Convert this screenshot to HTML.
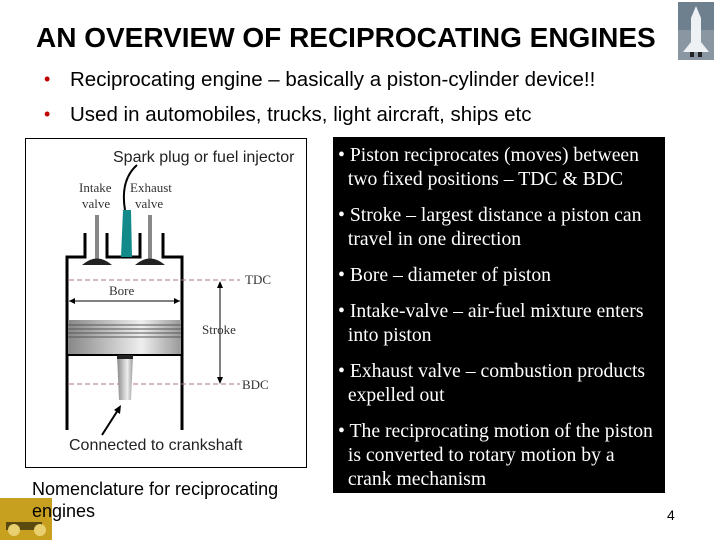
<!DOCTYPE html>
<html><head><meta charset="utf-8"><style>
body{margin:0;width:720px;height:540px;background:#fff;position:relative;overflow:hidden;font-family:"Liberation Sans",sans-serif}
.a{position:absolute;white-space:nowrap}
.t{font-family:"Liberation Serif",serif;color:#fff;font-size:19.7px;line-height:24px;left:338px}
</style></head><body>
<div class="a" style="left:36px;top:22px;font-size:28px;font-weight:bold;color:#000">AN OVERVIEW OF RECIPROCATING ENGINES</div>
<svg class="a" style="left:678px;top:2px" width="36" height="58"><rect x="0" y="0" width="36" height="58" fill="#6e7f8e"/><rect x="0" y="28" width="36" height="30" fill="#8a97a3"/><path d="M18 4 L23 16 L23 40 L31 50 L5 50 L13 40 L13 16Z" fill="#eef1f4"/><rect x="12" y="50" width="4" height="5" fill="#222"/><rect x="20" y="50" width="4" height="5" fill="#222"/></svg>
<div class="a" style="left:44px;top:69px;font-size:18px;color:#c00000">•</div>
<div class="a" style="left:70px;top:68px;font-size:20.5px">Reciprocating engine – basically a piston-cylinder device!!</div>
<div class="a" style="left:44px;top:104px;font-size:18px;color:#c00000">•</div>
<div class="a" style="left:70px;top:103px;font-size:20.5px">Used in automobiles, trucks, light aircraft, ships etc</div>
<div class="a" style="left:25px;top:138px;width:280px;height:328px;border:1px solid #000"></div>
<svg class="a" style="left:0;top:0" width="330" height="540">
<defs><linearGradient id="g" x1="0" x2="1"><stop offset="0" stop-color="#888"/><stop offset=".65" stop-color="#eee"/><stop offset="1" stop-color="#999"/></linearGradient></defs>
<g stroke="#000" stroke-width="3" fill="none">
<path d="M67 430 V257 H85 V233"/><path d="M107 233 V257 H140 V233"/><path d="M163 233 V257 H182 V430"/>
</g>
<rect x="95" y="215" width="4" height="45" fill="#888"/><rect x="148" y="215" width="4" height="45" fill="#888"/>
<path d="M82 265 Q97 252 112 265Z" fill="#222"/><path d="M135 265 Q150 252 165 265Z" fill="#222"/>
<path d="M121 257 L123 210 L131 210 L132 257Z" fill="#138a8a"/>
<path d="M125 210 Q120 180 137 165" stroke="#000" stroke-width="2" fill="none"/>
<path d="M69 280 H240 M69 384 H240" stroke="#b07090" stroke-dasharray="5,3" stroke-width="1"/>
<path d="M69 301 H180" stroke="#000"/><path d="M69 301 l6 -3 v6z M180 301 l-6 -3 v6z" fill="#000"/>
<path d="M220 282 V382" stroke="#000"/><path d="M220 281 l-3 7 h6z M220 384 l-3 -7 h6z" fill="#000"/>
<rect x="68" y="320" width="113" height="35" fill="url(#g)"/>
<path d="M68 325 H181 M68 329 H181 M68 333 H181 M68 337 H181" stroke="#555" stroke-width="1"/>
<path d="M68 355 H181" stroke="#000" stroke-width="2"/>
<path d="M117 355 H133 L131 400 H119Z" fill="url(#g)"/><rect x="117" y="355" width="16" height="4" fill="#222"/>
<path d="M102 435 L118 410" stroke="#000" stroke-width="2"/><path d="M121 405 l-1 9 l-6 -4z" fill="#000"/>
<g font-family="Liberation Serif,serif" font-size="13" fill="#333">
<text x="79" y="192">Intake</text><text x="82" y="208">valve</text>
<text x="130" y="192">Exhaust</text><text x="135" y="208">valve</text>
<text x="109" y="295">Bore</text><text x="202" y="334">Stroke</text>
<text x="245" y="284">TDC</text><text x="242" y="389">BDC</text></g>
<g font-family="Liberation Sans,sans-serif" font-size="16" fill="#222">
<text x="113" y="162">Spark plug or fuel injector</text><text x="69" y="450">Connected to crankshaft</text></g>
<rect x="0" y="498" width="52" height="42" fill="#c8a020"/><path d="M6 522 h36 v8 h-36z" fill="#5a4a10"/><circle cx="14" cy="530" r="6" fill="#e8d070"/><circle cx="40" cy="530" r="6" fill="#e8d070"/>
</svg>
<div class="a" style="left:32px;top:478px;font-size:18px;line-height:22px">Nomenclature for reciprocating<br>engines</div>
<div class="a" style="left:333px;top:137px;width:332px;height:356px;background:#000"></div>
<div class="a t" style="top:143px">• Piston reciprocates (moves) between<br>&nbsp;&nbsp;two fixed positions – TDC &amp; BDC</div>
<div class="a t" style="top:203px">• Stroke – largest distance a piston can<br>&nbsp;&nbsp;travel in one direction</div>
<div class="a t" style="top:263px">• Bore – diameter of piston</div>
<div class="a t" style="top:299px">• Intake-valve – air-fuel mixture enters<br>&nbsp;&nbsp;into piston</div>
<div class="a t" style="top:359px">• Exhaust valve – combustion products<br>&nbsp;&nbsp;expelled out</div>
<div class="a t" style="top:419px">• The reciprocating motion of the piston<br>&nbsp;&nbsp;is converted to rotary motion by a<br>&nbsp;&nbsp;crank mechanism</div>
<div class="a" style="left:667px;top:507px;font-size:14px">4</div>
</body></html>
